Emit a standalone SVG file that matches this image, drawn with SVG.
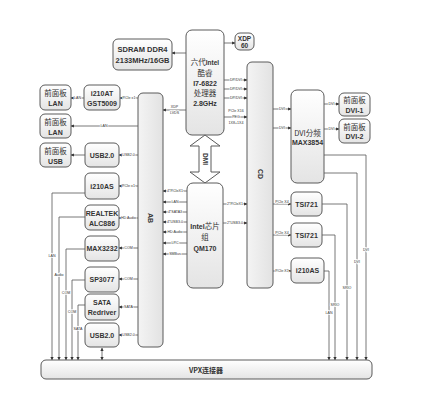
<svg xmlns="http://www.w3.org/2000/svg" width="422" height="408" viewBox="0 0 422 408">
<defs>
<linearGradient id="g" x1="0" y1="0" x2="0" y2="1"><stop offset="0" stop-color="#ffffff"/><stop offset="1" stop-color="#e4e4e4"/></linearGradient>
<linearGradient id="gh" x1="0" y1="0" x2="1" y2="0"><stop offset="0" stop-color="#f4f4f4"/><stop offset="1" stop-color="#e2e2e2"/></linearGradient>
<marker id="a" viewBox="0 0 6 6" refX="5.5" refY="3" markerWidth="4" markerHeight="4" orient="auto-start-reverse"><path d="M0,0 L6,3 L0,6 Z" fill="#333"/></marker>
<style>
.b{fill:url(#g);stroke:#5a5a5a;stroke-width:1}
.bar{fill:url(#gh);stroke:#5a5a5a;stroke-width:1}
.t{font-family:"Liberation Sans","Noto Sans CJK SC",sans-serif;font-size:7px;font-weight:bold;fill:#333;text-anchor:middle}
.c{font-family:"Noto Sans CJK SC",sans-serif;font-size:7.5px;fill:#333;text-anchor:middle}
.l{stroke:#555;stroke-width:0.8;fill:none;marker-end:url(#a)}
.s{font-family:"Liberation Sans",sans-serif;font-size:3.6px;fill:#333;text-anchor:middle;stroke:#fff;stroke-width:1.4px;paint-order:stroke}
</style>
</defs>
<rect width="422" height="408" fill="#fff"/>
<g id="connectors">
<line class="l" x1="186" y1="53" x2="172" y2="53"/>
<line class="l" x1="224" y1="43" x2="235" y2="43"/>
<line class="l" x1="224" y1="80" x2="247" y2="80"/>
<line class="l" x1="224" y1="89" x2="247" y2="89"/>
<line class="l" x1="224" y1="98" x2="247" y2="98"/>
<line class="l" x1="224" y1="117" x2="247" y2="117"/>
<line class="l" x1="186" y1="110" x2="163" y2="110"/>
<line class="l" x1="187" y1="191" x2="163" y2="191"/>
<line class="l" x1="187" y1="202" x2="163" y2="202"/>
<line class="l" x1="187" y1="212" x2="163" y2="212"/>
<line class="l" x1="187" y1="222" x2="163" y2="222"/>
<line class="l" x1="187" y1="232" x2="163" y2="232"/>
<line class="l" x1="187" y1="243" x2="163" y2="243"/>
<line class="l" x1="187" y1="254" x2="163" y2="254"/>
<line class="l" x1="223" y1="204" x2="247" y2="204"/>
<line class="l" x1="223" y1="223" x2="247" y2="223"/>
<line class="l" x1="138" y1="98" x2="120" y2="98"/>
<line class="l" x1="84" y1="98" x2="71" y2="98"/>
<line class="l" x1="138" y1="126" x2="71" y2="126"/>
<line class="l" x1="138" y1="155" x2="119" y2="155"/>
<line class="l" x1="85" y1="155" x2="71" y2="155"/>
<line class="l" x1="138" y1="186" x2="119" y2="186"/>
<line class="l" x1="138" y1="218" x2="119" y2="218"/>
<line class="l" x1="138" y1="248" x2="119" y2="248"/>
<line class="l" x1="138" y1="279" x2="119" y2="279"/>
<line class="l" x1="138" y1="307" x2="119" y2="307"/>
<line class="l" x1="138" y1="335" x2="119" y2="335"/>
<path class="l" d="M85,193 H52 V360"/>
<path class="l" d="M85,217 H59 V360"/>
<path class="l" d="M85,249 H66 V360"/>
<path class="l" d="M85,280 H72 V360"/>
<path class="l" d="M85,305 H78 V360"/>
<line class="l" x1="102" y1="348" x2="102" y2="360" style="marker-start:url(#a)"/>
<line class="l" x1="273" y1="109" x2="291" y2="109"/>
<line class="l" x1="273" y1="128" x2="291" y2="128"/>
<line class="l" x1="324" y1="104" x2="339" y2="104"/>
<line class="l" x1="324" y1="129" x2="339" y2="129"/>
<path class="l" d="M324,155 H366 V360"/>
<path class="l" d="M324,173 H357 V360"/>
<line class="l" x1="273" y1="204" x2="291" y2="204"/>
<path class="l" d="M322,204 H347 V360"/>
<line class="l" x1="273" y1="235" x2="291" y2="235"/>
<path class="l" d="M322,235 H335 V360"/>
<line class="l" x1="273" y1="271" x2="291" y2="271"/>
<path class="l" d="M324,271 H329 V360"/>
<g id="labels">
<text class="s" x="236" y="81.2">DP/DVI</text>
<text class="s" x="236" y="90.2">DP/DVI</text>
<text class="s" x="236" y="99.2">DP/DVI</text>
<text class="s" x="236" y="112">PCIe X16</text>
<text class="s" x="236" y="118.2">PEG</text>
<text class="s" x="236" y="124">1X8+1X4</text>
<text class="s" x="174.5" y="108">XDP</text>
<text class="s" x="174.5" y="114">LVDS</text>
<text class="s" x="175" y="192.2">4*PCIeX1</text>
<text class="s" x="175" y="203.2">LAN</text>
<text class="s" x="175" y="213.2">4*SATA3</text>
<text class="s" x="175" y="223.2">4*USB3.0</text>
<text class="s" x="175" y="233.2">HD Audio</text>
<text class="s" x="175" y="244.2">LPC</text>
<text class="s" x="175" y="255.2">SMBus</text>
<text class="s" x="235" y="205.2">2*PCIeX1</text>
<text class="s" x="235" y="224.2">2*USB3.0</text>
<text class="s" x="129" y="99.2">PCIe x1</text>
<text class="s" x="77.5" y="99.2">LAN</text>
<text class="s" x="104" y="127.2">LAN</text>
<text class="s" x="128.5" y="156.2">USB2.0</text>
<text class="s" x="128.5" y="187.2">PCIe x1</text>
<text class="s" x="128.5" y="219.2">HD Audio</text>
<text class="s" x="128.5" y="249.2">COM</text>
<text class="s" x="128.5" y="280.2">COM</text>
<text class="s" x="128.5" y="308.2">SATA</text>
<text class="s" x="128.5" y="336.2">USB2.0</text>
<text class="s" x="52" y="257">LAN</text>
<text class="s" x="59" y="276">Audio</text>
<text class="s" x="66" y="294">COM</text>
<text class="s" x="72" y="313">COM</text>
<text class="s" x="78" y="330">SATA</text>
<text class="s" x="282" y="110.2">DVI</text>
<text class="s" x="282" y="129.2">DVI</text>
<text class="s" x="331.5" y="105.2">DVI</text>
<text class="s" x="331.5" y="130.2">DVI</text>
<text class="s" x="366" y="251">DVI</text>
<text class="s" x="357" y="263">DVI</text>
<text class="s" x="282" y="203">PCIe X4</text>
<text class="s" x="282" y="234">PCIe X4</text>
<text class="s" x="282" y="272.2">PCIe X1</text>
<text class="s" x="347" y="289">SRIO</text>
<text class="s" x="335" y="306">SRIO</text>
<text class="s" x="329" y="314">LAN</text>
</g>
</g>
<g id="sdram"><rect class="b" x="113" y="39" width="59" height="31" rx="5"/><text class="t" x="142.5" y="52" style="font-size:7.5px">SDRAM DDR4</text><text class="t" x="142.5" y="63" style="font-size:7.5px">2133MHz/16GB</text></g>
<g id="cpu"><rect class="b" x="186" y="30" width="38" height="105" rx="6"/><text class="c" x="205" y="65">六代<tspan class="t" style="font-size:6.5px">Intel</tspan></text><text class="c" x="205" y="76">酷睿</text><text class="t" x="205" y="86">I7-6822</text><text class="c" x="205" y="96">处理器</text><text class="t" x="205" y="106">2.8GHz</text></g>
<g id="xdp"><rect class="b" x="235" y="33" width="19" height="17" rx="5"/><text class="t" x="244.5" y="40.5" style="font-size:6.5px">XDP</text><text class="t" x="244.5" y="48" style="font-size:6.5px">60</text></g>
<g id="dmi"><path d="M205,135 L220,146 L211,146 L211,172 L220,172 L205,183 L190,172 L199,172 L199,146 L190,146 Z" fill="#fff" stroke="#5a5a5a" stroke-width="1"/><text class="t" transform="translate(202.5,159) rotate(90)" style="font-size:6.5px">DMI</text></g>
<g id="ab"><rect class="bar" x="138" y="93" width="25" height="254" rx="5"/><text class="t" transform="translate(148,218) rotate(90)">AB</text></g>
<g id="cd"><rect class="bar" x="247" y="62" width="26" height="226" rx="5"/><text class="t" transform="translate(257.5,174) rotate(90)">CD</text></g>
<g id="chipset"><rect class="b" x="187" y="183" width="36" height="105" rx="6"/><text class="t" x="205" y="229">Intel<tspan class="c" style="font-weight:normal">芯片</tspan></text><text class="c" x="205" y="240">组</text><text class="t" x="205" y="251">QM170</text></g>
<g id="fp-lan1"><rect class="b" x="40" y="85" width="31" height="25" rx="5"/><text class="c" x="55.5" y="96">前面板</text><text class="t" x="55.5" y="106">LAN</text></g>
<g id="i210at"><rect class="b" x="84" y="85" width="36" height="25" rx="5"/><text class="t" x="102" y="96">i210AT</text><text class="t" x="102" y="106">GST5009</text></g>
<g id="fp-lan2"><rect class="b" x="40" y="114" width="31" height="24" rx="5"/><text class="c" x="55.5" y="125">前面板</text><text class="t" x="55.5" y="134.5">LAN</text></g>
<g id="fp-usb"><rect class="b" x="40" y="143" width="31" height="24" rx="5"/><text class="c" x="55.5" y="154">前面板</text><text class="t" x="55.5" y="163.5">USB</text></g>
<g id="usb20a"><rect class="b" x="85" y="143" width="34" height="24" rx="5"/><text class="t" x="102" y="157.5">USB2.0</text></g>
<g id="i210as-l"><rect class="b" x="85" y="173" width="34" height="26" rx="5"/><text class="t" x="102" y="188.5">i210AS</text></g>
<g id="realtek"><rect class="b" x="85" y="205" width="34" height="25" rx="5"/><text class="t" x="102" y="215.5">REALTEK</text><text class="t" x="102" y="225.5">ALC886</text></g>
<g id="max3232"><rect class="b" x="85" y="236" width="34" height="25" rx="5"/><text class="t" x="102" y="251">MAX3232</text></g>
<g id="sp3077"><rect class="b" x="85" y="267" width="34" height="25" rx="5"/><text class="t" x="102" y="282">SP3077</text></g>
<g id="sata"><rect class="b" x="85" y="294" width="34" height="26" rx="5"/><text class="t" x="102" y="304.5">SATA</text><text class="t" x="102" y="314.5">Redriver</text></g>
<g id="usb20b"><rect class="b" x="85" y="323" width="34" height="24" rx="5"/><text class="t" x="102" y="337.5">USB2.0</text></g>
<g id="dvi-split"><rect class="b" x="291" y="90" width="33" height="93" rx="6"/><text class="c" x="307.5" y="136">DVI分频</text><text class="t" x="307.5" y="145">MAX3854</text></g>
<g id="fp-dvi1"><rect class="b" x="339" y="93" width="31" height="23" rx="5"/><text class="c" x="354.5" y="103">前面板</text><text class="t" x="354.5" y="112.5">DVI-1</text></g>
<g id="fp-dvi2"><rect class="b" x="339" y="119" width="31" height="24" rx="5"/><text class="c" x="354.5" y="129.5">前面板</text><text class="t" x="354.5" y="139">DVI-2</text></g>
<g id="tsi721a"><rect class="b" x="291" y="192" width="31" height="24" rx="5"/><text class="t" x="306.5" y="206.5">TSI721</text></g>
<g id="tsi721b"><rect class="b" x="291" y="223" width="31" height="24" rx="5"/><text class="t" x="306.5" y="237.5">TSI721</text></g>
<g id="i210as-r"><rect class="b" x="291" y="258" width="33" height="25" rx="5"/><text class="t" x="307.5" y="273">i210AS</text></g>
<g id="vpx"><rect class="b" x="41" y="360" width="331" height="19" rx="5"/><text class="c" x="206" y="372.5" style="font-size:7px;font-weight:bold">VPX连接器</text></g>
</svg>
